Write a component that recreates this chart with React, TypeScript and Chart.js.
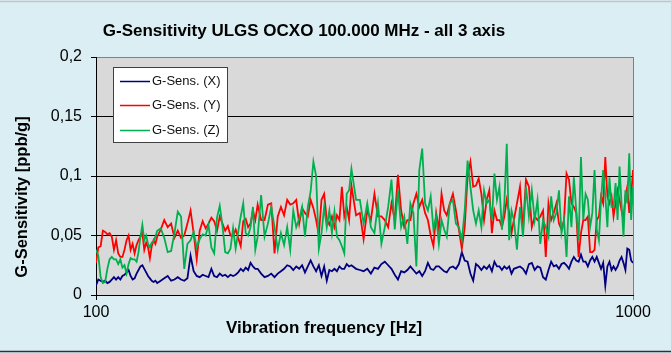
import React, { useEffect, useRef } from "react";
import { Chart, registerables } from "chart.js";

Chart.register(...registerables);

const TITLE = "G-Sensitivity ULGS OCXO 100.000 MHz - all 3 axis";
const X_TITLE = "Vibration frequency [Hz]";
const Y_TITLE = "G-Sensitivity [ppb/g]";
const SERIES_NAMES = ["G-Sens. (X)", "G-Sens. (Y)", "G-Sens. (Z)"];
const SERIES_COLORS = ["#000080", "#ff0000", "#00b050"];
const X_TICKS = [100, 1000];
const Y_TICKS = [0, 0.05, 0.1, 0.15, 0.2];

const FREQ_HZ = [
  100, 101, 102, 103, 104, 105, 106, 107, 108, 109, 110, 111, 112, 113, 114, 115, 116, 117, 118, 119, 120, 121, 122, 123, 124, 125, 126, 127, 128, 129, 130,
  132, 134, 136, 138, 140, 142, 144, 146, 148, 150, 152, 154, 156, 158, 160, 162, 164, 166, 168, 170, 172, 174, 176, 178, 180, 182, 184, 186, 188, 190, 192, 194, 196, 198, 200,
  203, 206, 209, 212, 215, 218, 221, 224, 227, 230, 233, 236, 239, 242, 245, 248, 251, 254, 257, 260, 263, 266, 269, 272, 275, 278, 281, 284, 287, 290, 293, 296, 299,
  305, 310, 315, 320, 325, 330, 335, 340, 345, 350, 355, 360, 365, 370, 375, 380, 385, 390, 395, 400, 405, 410, 415, 420, 425, 430, 435, 440, 445, 450,
  456, 462, 468, 474, 480, 486, 492, 498, 504, 510, 516, 522, 528, 534, 540, 546, 552, 558, 564, 570, 576, 582, 588, 594, 600,
  608, 616, 624, 632, 640, 648, 656, 664, 672, 680, 688, 696, 704, 712, 720, 728, 736, 744, 752, 760, 768, 776, 784, 792, 800,
  808, 816, 824, 832, 840, 848, 856, 864, 872, 880, 888, 896, 904, 912, 920, 928, 936, 944, 952, 960, 968, 976, 984, 992, 1000,
];

const SENS_X = [
  0.008, 0.013, 0.012, 0.011, 0.012, 0.010, 0.011, 0.013, 0.015, 0.013, 0.015, 0.013, 0.016, 0.017, 0.019, 0.021, 0.016, 0.013, 0.014, 0.018, 0.021, 0.024, 0.025, 0.022, 0.019, 0.016, 0.014, 0.012, 0.011, 0.012, 0.010,
  0.012, 0.014, 0.016, 0.012, 0.013, 0.015, 0.013, 0.012, 0.014, 0.033, 0.020, 0.016, 0.015, 0.017, 0.016, 0.015, 0.022, 0.016, 0.015, 0.018, 0.016, 0.017, 0.015, 0.017, 0.016, 0.017, 0.019, 0.022, 0.020, 0.023, 0.021, 0.027, 0.024, 0.022, 0.022,
  0.018, 0.015, 0.016, 0.018, 0.015, 0.018, 0.020, 0.022, 0.025, 0.024, 0.021, 0.024, 0.022, 0.025, 0.019, 0.024, 0.029, 0.024, 0.020, 0.025, 0.016, 0.024, 0.012, 0.021, 0.020, 0.022, 0.020, 0.024, 0.022, 0.022, 0.026, 0.024, 0.025,
  0.022, 0.021, 0.020, 0.022, 0.018, 0.023, 0.022, 0.026, 0.028, 0.025, 0.022, 0.017, 0.013, 0.020, 0.019, 0.021, 0.024, 0.021, 0.018, 0.020, 0.016, 0.020, 0.027, 0.022, 0.021, 0.024, 0.024, 0.022, 0.020, 0.019,
  0.023, 0.024, 0.022, 0.026, 0.036, 0.029, 0.028, 0.018, 0.012, 0.026, 0.024, 0.021, 0.024, 0.022, 0.025, 0.020, 0.028, 0.024, 0.024, 0.021, 0.024, 0.022, 0.024, 0.018, 0.022,
  0.023, 0.024, 0.022, 0.018, 0.026, 0.027, 0.021, 0.024, 0.023, 0.015, 0.013, 0.021, 0.028, 0.024, 0.025, 0.022, 0.026, 0.027, 0.025, 0.022, 0.028, 0.032, 0.029, 0.028, 0.034,
  0.028, 0.028, 0.024, 0.029, 0.032, 0.028, 0.032, 0.027, 0.022, 0.027, 0.008, 0.024, 0.028, 0.021, 0.024, 0.021, 0.024, 0.029, 0.032, 0.027, 0.021, 0.039, 0.038, 0.029, 0.027,
];

const SENS_Y = [
  0.027, 0.040, 0.041, 0.054, 0.053, 0.051, 0.052, 0.049, 0.038, 0.046, 0.035, 0.032, 0.032, 0.038, 0.046, 0.050, 0.038, 0.043, 0.035, 0.042, 0.046, 0.049, 0.052, 0.038, 0.044, 0.040, 0.031, 0.041, 0.046, 0.043, 0.049,
  0.055, 0.063, 0.057, 0.060, 0.048, 0.054, 0.048, 0.050, 0.060, 0.071, 0.052, 0.030, 0.054, 0.062, 0.056, 0.060, 0.065, 0.062, 0.054, 0.066, 0.060, 0.054, 0.058, 0.050, 0.050, 0.055, 0.048, 0.041, 0.062, 0.064, 0.057, 0.060, 0.071, 0.063, 0.076,
  0.063, 0.063, 0.076, 0.077, 0.035, 0.066, 0.074, 0.067, 0.080, 0.076, 0.077, 0.080, 0.060, 0.073, 0.069, 0.066, 0.080, 0.073, 0.063, 0.050, 0.080, 0.085, 0.063, 0.059, 0.066, 0.057, 0.067, 0.063, 0.091, 0.066, 0.074, 0.063, 0.092,
  0.067, 0.069, 0.047, 0.071, 0.063, 0.085, 0.066, 0.066, 0.063, 0.057, 0.077, 0.063, 0.101, 0.071, 0.057, 0.063, 0.063, 0.077, 0.085, 0.074, 0.080, 0.069, 0.063, 0.050, 0.041, 0.069, 0.055, 0.085, 0.071, 0.067,
  0.077, 0.085, 0.071, 0.055, 0.039, 0.057, 0.100, 0.112, 0.091, 0.092, 0.098, 0.085, 0.063, 0.080, 0.088, 0.052, 0.071, 0.063, 0.063, 0.057, 0.066, 0.080, 0.069, 0.052, 0.063,
  0.077, 0.091, 0.055, 0.097, 0.091, 0.057, 0.066, 0.063, 0.066, 0.071, 0.032, 0.077, 0.063, 0.069, 0.077, 0.060, 0.055, 0.063, 0.102, 0.097, 0.077, 0.074, 0.069, 0.032, 0.052,
  0.063, 0.063, 0.066, 0.036, 0.036, 0.038, 0.063, 0.066, 0.083, 0.077, 0.116, 0.083, 0.077, 0.083, 0.066, 0.077, 0.088, 0.080, 0.071, 0.063, 0.083, 0.091, 0.069, 0.083, 0.105,
];

const SENS_Z = [
  0.038, 0.033, 0.015, 0.010, 0.011, 0.022, 0.030, 0.032, 0.030, 0.030, 0.026, 0.030, 0.023, 0.025, 0.018, 0.026, 0.031, 0.030, 0.030, 0.028, 0.036, 0.049, 0.059, 0.046, 0.050, 0.043, 0.040, 0.044, 0.045, 0.049, 0.054,
  0.056, 0.048, 0.036, 0.037, 0.052, 0.070, 0.066, 0.022, 0.043, 0.046, 0.053, 0.040, 0.047, 0.051, 0.050, 0.059, 0.040, 0.035, 0.065, 0.075, 0.058, 0.036, 0.035, 0.039, 0.056, 0.039, 0.053, 0.066, 0.077, 0.052, 0.050, 0.057, 0.074, 0.038, 0.049,
  0.084, 0.049, 0.060, 0.074, 0.057, 0.038, 0.052, 0.042, 0.057, 0.038, 0.071, 0.057, 0.064, 0.074, 0.049, 0.074, 0.087, 0.112, 0.100, 0.039, 0.052, 0.074, 0.057, 0.071, 0.052, 0.070, 0.049, 0.046, 0.041, 0.035, 0.085, 0.088, 0.106,
  0.080, 0.080, 0.060, 0.077, 0.057, 0.052, 0.077, 0.043, 0.057, 0.074, 0.097, 0.055, 0.088, 0.057, 0.066, 0.043, 0.077, 0.069, 0.024, 0.105, 0.123, 0.077, 0.071, 0.083, 0.055, 0.066, 0.043, 0.063, 0.055, 0.049,
  0.077, 0.080, 0.060, 0.057, 0.046, 0.071, 0.113, 0.091, 0.071, 0.060, 0.071, 0.057, 0.088, 0.077, 0.080, 0.063, 0.102, 0.080, 0.091, 0.055, 0.077, 0.127, 0.046, 0.071, 0.063,
  0.038, 0.074, 0.049, 0.091, 0.066, 0.088, 0.063, 0.080, 0.043, 0.063, 0.057, 0.049, 0.083, 0.063, 0.069, 0.088, 0.052, 0.063, 0.032, 0.083, 0.057, 0.099, 0.071, 0.046, 0.116,
  0.063, 0.085, 0.080, 0.057, 0.069, 0.105, 0.055, 0.046, 0.080, 0.105, 0.083, 0.057, 0.099, 0.074, 0.074, 0.094, 0.063, 0.108, 0.077, 0.049, 0.088, 0.077, 0.119, 0.063, 0.091,
];

const FONT = '"Liberation Sans", Arial, Helvetica, sans-serif';

export default function App() {
  const ref = useRef<HTMLCanvasElement>(null);

  useEffect(() => {
    document.body.style.margin = "0";
    const canvas = ref.current;
    if (!canvas) return;
    const series = [SENS_X, SENS_Y, SENS_Z];

    const overlay = {
      id: "overlay",
      beforeDraw(chart: any) {
        const c = chart.ctx;
        const a = chart.chartArea;
        c.save();
        c.fillStyle = "#d9d9d9";
        c.fillRect(a.left, a.top, a.right - a.left, a.bottom - a.top);
        c.restore();
      },
      afterDraw(chart: any) {
        const c = chart.ctx;
        const a = chart.chartArea;
        c.save();
        // right plot border
        c.strokeStyle = "#808080";
        c.lineWidth = 1;
        c.beginPath();
        c.moveTo(a.right + 0.5, a.top);
        c.lineTo(a.right + 0.5, a.bottom);
        c.stroke();

        // chart title
        c.fillStyle = "#000";
        c.textAlign = "center";
        c.textBaseline = "alphabetic";
        c.font = `bold 17px ${FONT}`;
        c.fillText(TITLE, 304, 36);

        // axis titles
        c.font = `bold 17px ${FONT}`;
        c.textBaseline = "middle";
        c.fillText(X_TITLE, 324, 328);
        c.save();
        c.translate(22, 197);
        c.rotate(-Math.PI / 2);
        c.font = `bold 16.5px ${FONT}`;
        c.fillText(Y_TITLE, 0, 0);
        c.restore();

        // legend
        const lx = 113, ly = 67, lw = 114, lh = 75;
        c.fillStyle = "#ffffff";
        c.fillRect(lx, ly, lw, lh);
        c.strokeStyle = "#404040";
        c.lineWidth = 1;
        c.strokeRect(lx + 0.5, ly + 0.5, lw, lh);
        const rows = [81.5, 105.5, 130.5];
        c.font = `13px ${FONT}`;
        c.textAlign = "left";
        c.textBaseline = "middle";
        SERIES_NAMES.forEach((name, i) => {
          c.strokeStyle = SERIES_COLORS[i];
          c.lineWidth = 1.5;
          c.beginPath();
          c.moveTo(120, rows[i]);
          c.lineTo(150, rows[i]);
          c.stroke();
          c.fillStyle = "#111";
          c.fillText(name, 152, rows[i]);
        });

        // outer frame lines
        c.strokeStyle = "#c4c4c4";
        c.beginPath();
        c.moveTo(0, 1.5);
        c.lineTo(671, 1.5);
        c.stroke();
        c.strokeStyle = "#303030";
        c.beginPath();
        c.moveTo(0, 351.5);
        c.lineTo(671, 351.5);
        c.stroke();
        c.restore();
      },
    };

    const chart = new Chart(canvas, {
      type: "line",
      data: {
        datasets: series.map((vals, i) => ({
          label: SERIES_NAMES[i],
          data: FREQ_HZ.map((f, k) => ({ x: f, y: vals[k] })),
          borderColor: SERIES_COLORS[i],
          backgroundColor: SERIES_COLORS[i],
          borderWidth: 1.8,
          pointRadius: 0,
          tension: 0,
          fill: false,
          order: 2 - i,
        })),
      },
      options: {
        animation: false,
        responsive: false,
        maintainAspectRatio: false,
        devicePixelRatio: 1,
        layout: { padding: { left: 0, top: 57, right: 38, bottom: 0 } },
        plugins: {
          legend: { display: false },
          title: { display: false },
          tooltip: { enabled: false },
        },
        scales: {
          x: {
            type: "logarithmic",
            min: 100,
            max: 1000,
            position: "bottom",
            afterBuildTicks: (s: any) => {
              s.ticks = X_TICKS.map((v) => ({ value: v }));
            },
            afterFit: (s: any) => {
              s.height = 58;
            },
            ticks: {
              autoSkip: false,
              maxRotation: 0,
              minRotation: 0,
              padding: 3,
              color: "#000",
              font: { family: FONT, size: 16 },
              callback: (v: any) => String(v),
            },
            grid: {
              drawOnChartArea: false,
              drawTicks: true,
              tickLength: 5,
              color: (ctx: any) => (ctx.tick && ctx.tick.value === 1000 ? "#808080" : "#000"),
            },
            border: { display: true, color: "#000", width: 1 },
          },
          y: {
            type: "linear",
            min: 0,
            max: 0.2,
            afterBuildTicks: (s: any) => {
              s.ticks = Y_TICKS.map((v) => ({ value: v }));
            },
            afterFit: (s: any) => {
              s.width = 96;
            },
            ticks: {
              padding: 9,
              color: "#000",
              font: { family: FONT, size: 16 },
              callback: (v: any) => String(Math.round(Number(v) * 100) / 100).replace(".", ","),
            },
            grid: {
              drawTicks: true,
              tickLength: 5,
              color: (ctx: any) =>
                ctx.tick && Math.abs(ctx.tick.value - 0.2) < 1e-9 ? "#808080" : "#000",
              tickColor: "#000",
              lineWidth: 1,
            },
            border: { display: true, color: "#000", width: 1 },
          },
        },
      },
      plugins: [overlay],
    } as any);

    return () => chart.destroy();
  }, []);

  return (
    <div style={{ width: 671, height: 353, background: "#daeef3", position: "relative" }}>
      <canvas ref={ref} width={671} height={353} style={{ display: "block", width: 671, height: 353 }} />
    </div>
  );
}
